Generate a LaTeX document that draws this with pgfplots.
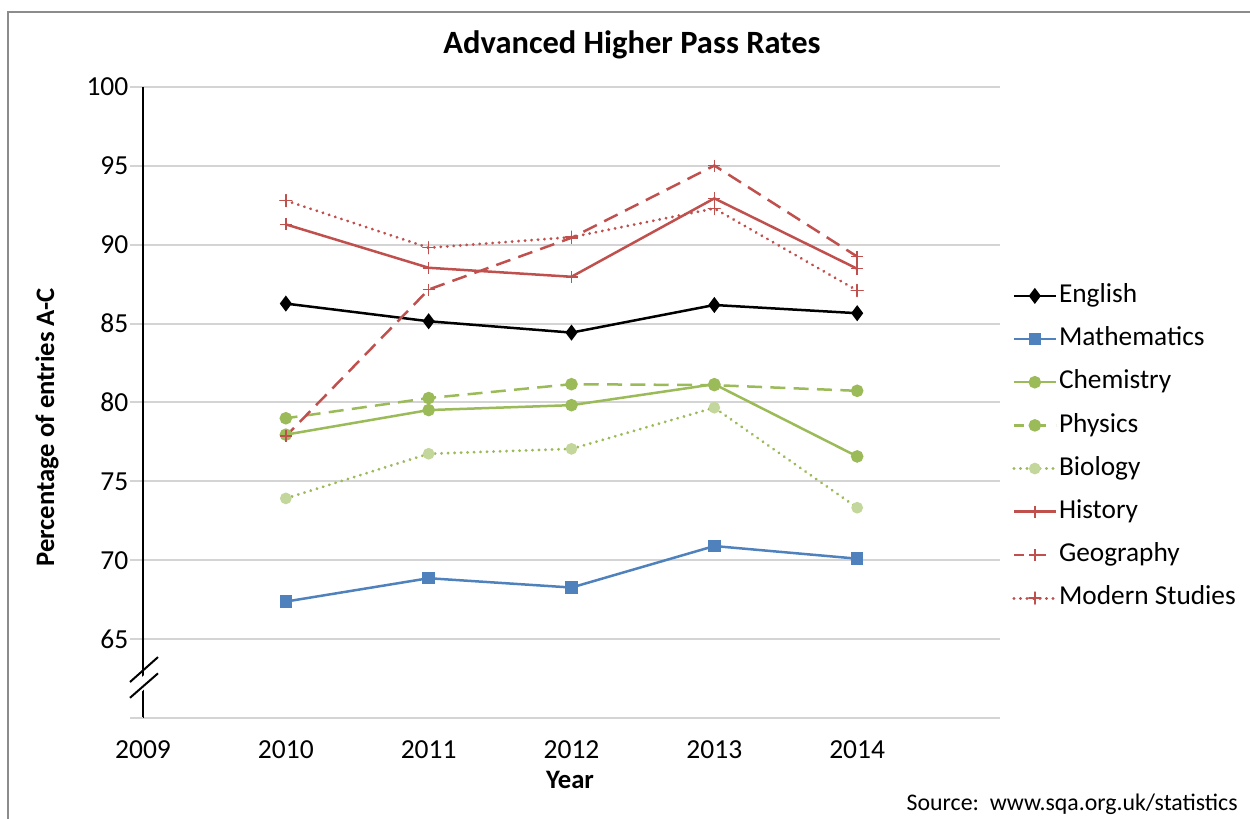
\documentclass[border=0pt]{standalone}
\usepackage{fontspec}
\setmainfont{Carlito}
\usepackage{pgfplots}
\pgfplotsset{compat=1.18}
\definecolor{cblack}{HTML}{000000}
\definecolor{cblue}{HTML}{4F81BD}
\definecolor{cgreen}{HTML}{9BBB59}
\definecolor{clgreen}{HTML}{C3D69B}
\definecolor{cred}{HTML}{C0504D}
\definecolor{cgrid}{HTML}{D4D4D4}
\definecolor{cframe}{HTML}{8C8C8C}
\begin{document}
\begin{tikzpicture}[x=1pt,y=1pt]
\useasboundingbox (0,0) rectangle (750,491.4);
\draw[cframe,line width=1.2pt] (4.8,0) -- (4.8,484.2) -- (750,484.2);
\node[font=\fontsize{19.5}{22}\selectfont\bfseries] at (379.2,464.4) {Advanced Higher Pass Rates};
\node[font=\fontsize{16}{19}\selectfont\bfseries,rotate=90] at (28.2,235) {Percentage of entries A-C};
\node[font=\fontsize{16}{19}\selectfont\bfseries] at (342,23.4) {Year};
\node[font=\fontsize{14.3}{17}\selectfont,anchor=east,inner sep=0pt] at (742.8,9) {Source:\ \ www.sqa.org.uk/statistics};
\begin{axis}[
  at={(85.8pt,60.6pt)}, anchor=south west,
  scale only axis, width=514.2pt, height=378.6pt,
  xmin=2009, xmax=2015, ymin=60, ymax=100,
  clip=false,
  xtick={2009,2010,2011,2012,2013,2014},
  ytick={65,70,75,80,85,90,95,100},
  extra y ticks={60}, extra y tick labels={},
  extra y tick style={grid=none},
  /pgf/number format/1000 sep={},
  /pgf/number format/assume math mode=true,
  ticklabel style={font=\fontsize{16.5}{19}\selectfont},
  axis x line*=bottom, axis y line*=left,
  x axis line style={cgrid, line width=1.2pt, -},
  y axis line style={black, line width=1.2pt, -},
  xtick style={draw=none},
  ytick style={cgrid, line width=1.2pt},
  tick align=outside, major tick length=7.8pt,
  ymajorgrids, major grid style={cgrid, line width=1.2pt},
  xticklabel style={yshift=-2pt},
  yticklabel style={xshift=2.5pt},
  legend style={at={(1.014,0.4295)}, anchor=west, draw=none, fill=none,
    inner sep=0pt, font=\fontsize{16.4}{19}\selectfont,
    nodes={inner sep=1pt, text height=11pt, text depth=3pt},
    row sep=9.9pt},
  legend cell align=left,
  legend image code/.code={\draw[mark repeat=2,mark phase=2,#1] plot coordinates {(0pt,0pt) (12.6pt,0pt) (25.2pt,0pt)};},
]
\addplot[cblack, line width=1.5pt, mark=diamond*, mark size=3.6pt, mark options={solid, fill=cblack}]
  coordinates {(2010,86.27) (2011,85.15) (2012,84.43) (2013,86.18) (2014,85.66)};
\addlegendentry{English}
\addplot[cblue, line width=1.5pt, mark=square*, mark size=3pt, mark options={solid, fill=cblue}]
  coordinates {(2010,67.38) (2011,68.86) (2012,68.27) (2013,70.90) (2014,70.10)};
\addlegendentry{Mathematics}
\addplot[cgreen, line width=1.5pt, mark=*, mark size=3pt, mark options={solid, fill=cgreen}]
  coordinates {(2010,77.96) (2011,79.52) (2012,79.83) (2013,81.16) (2014,76.58)};
\addlegendentry{Chemistry}
\addplot[forget plot, cgreen, line width=1.5pt, dash pattern=on 9pt off 5pt, dash phase=2pt, mark=*, mark size=3pt, mark options={solid, fill=cgreen}]
  coordinates {(2010,79.00) (2011,80.28) (2012,81.16) (2013,81.10) (2014,80.74)};
\addlegendimage{cgreen, line width=1.5pt, dash pattern=on 6pt off 4pt on 9pt off 6.2pt, mark=*, mark size=3pt, mark options={solid, fill=cgreen}}
\addlegendentry{Physics}
\addplot[cgreen, line width=1.8pt, line cap=round, dash pattern=on 0.1pt off 3.8pt, mark=*, mark size=3pt, mark options={solid, line width=1pt, draw=clgreen, fill=clgreen}]
  coordinates {(2010,73.92) (2011,76.75) (2012,77.06) (2013,79.67) (2014,73.33)};
\addlegendentry{Biology}
\addplot[cred, line width=1.5pt, mark=+, mark size=3.6pt, mark options={solid, line width=0.9pt}]
  coordinates {(2010,91.29) (2011,88.54) (2012,87.97) (2013,92.94) (2014,88.48)};
\addlegendentry{History}
\addplot[forget plot, cred, line width=1.5pt, dash pattern=on 9pt off 5pt, dash phase=2pt, mark=+, mark size=3.6pt, mark options={solid, line width=0.9pt}]
  coordinates {(2010,77.86) (2011,87.16) (2012,90.44) (2013,95.02) (2014,89.25)};
\addlegendimage{cred, line width=1.5pt, dash pattern=on 6pt off 3pt on 10pt off 6.2pt, mark=+, mark size=3.6pt, mark options={solid, line width=0.9pt}}
\addlegendentry{Geography}
\addplot[cred, line width=1.8pt, line cap=round, dash pattern=on 0.1pt off 3.8pt, mark=+, mark size=3.6pt, mark options={solid, line width=0.9pt}]
  coordinates {(2010,92.80) (2011,89.81) (2012,90.48) (2013,92.30) (2014,87.10)};
\addlegendentry{Modern Studies}
\fill[white] (axis cs:2008.95,61.35) -- (axis cs:2009.15,62.95) -- (axis cs:2009.15,63.85) -- (axis cs:2008.95,62.25) -- cycle;
\draw[black, line width=1.2pt] (axis cs:2008.909,62.28) -- (axis cs:2009.105,63.86);
\draw[black, line width=1.2pt] (axis cs:2008.909,61.28) -- (axis cs:2009.105,62.83);
\end{axis}
\end{tikzpicture}
\end{document}
